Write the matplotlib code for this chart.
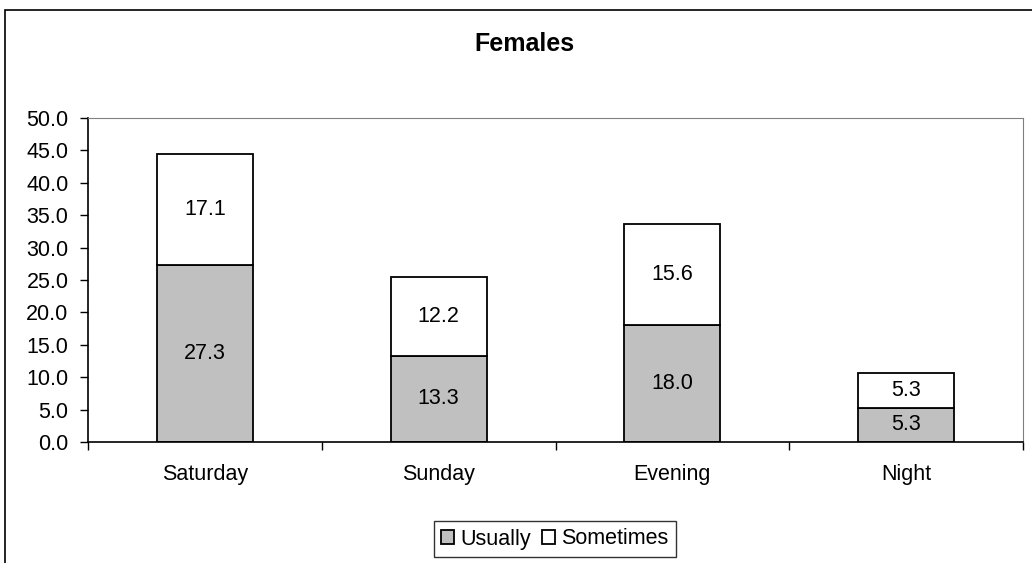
import matplotlib.pyplot as plt
import numpy as np
from matplotlib.patches import Rectangle

plt.rcParams['font.family'] = ['Liberation Sans', 'DejaVu Sans']

categories = ['Saturday', 'Sunday', 'Evening', 'Night']
usually = [27.3, 13.3, 18.0, 5.3]
sometimes = [17.1, 12.2, 15.6, 5.3]
yticks = np.arange(0, 50.1, 5.0)

W, H = 1032, 563
FS = 15.5
fig = plt.figure(figsize=(W / 100, H / 100), dpi=100)
ax = fig.add_axes([88 / W, 1 - 442 / H, (1023 - 88) / W, (442 - 118) / H])

# outer chart border (only left and top edges fall inside the image)
fig.patches.append(Rectangle((5 / W, -0.5), 2, 1.5 - 10 / H, transform=fig.transFigure,
                             fill=False, edgecolor='black', linewidth=1.2))

ind = np.arange(len(categories))
width = 0.41
usual_bar = ax.bar(ind, usually, width, color='#c0c0c0', edgecolor='black', linewidth=1.3)
some_bar = ax.bar(ind, sometimes, width, bottom=usually, color='white',
                  edgecolor='black', linewidth=1.3)

for bars, bottoms in ((usual_bar, [0] * 4), (some_bar, usually)):
    for bar, b in zip(bars, bottoms):
        h = bar.get_height()
        ax.text(bar.get_x() + bar.get_width() / 2, b + h / 2, '%.1f' % h,
                ha='center', va='center', fontsize=FS)

ax.set_xlim(-0.5, len(categories) - 0.5)
ax.set_ylim(0, 50)
ax.set_yticks(yticks)
ax.set_yticklabels(['%.1f' % v for v in yticks], fontsize=FS)
ax.set_xticks(ind)
ax.set_xticklabels(categories, fontsize=FS)
ax.tick_params(axis='x', length=0, pad=16)
ax.tick_params(axis='y', length=6, width=1, pad=8, direction='out')
ax.set_xticks(np.arange(-0.5, len(categories)), minor=True)
ax.tick_params(axis='x', which='minor', length=6, width=1, direction='out')

for side in ('top', 'right'):
    ax.spines[side].set_color('#808080')
for side in ('left', 'bottom'):
    ax.spines[side].set_color('black')
    ax.spines[side].set_linewidth(1.2)

fig.text(524 / W, 1 - 44 / H, 'Females', ha='center', va='center',
         fontsize=18, fontweight='bold')

leg = fig.legend((usual_bar[0], some_bar[0]), ('Usually', 'Sometimes'),
                 loc='center', bbox_to_anchor=(555 / W, 1 - 539 / H), ncol=2,
                 fontsize=FS, frameon=True, fancybox=False, handlelength=0.6,
                 handleheight=0.6, handletextpad=0.3, columnspacing=0.5,
                 borderpad=0.35, borderaxespad=0)
leg.get_frame().set_edgecolor('black')
leg.get_frame().set_linewidth(1.0)

fig.savefig('out.png', dpi=100)
